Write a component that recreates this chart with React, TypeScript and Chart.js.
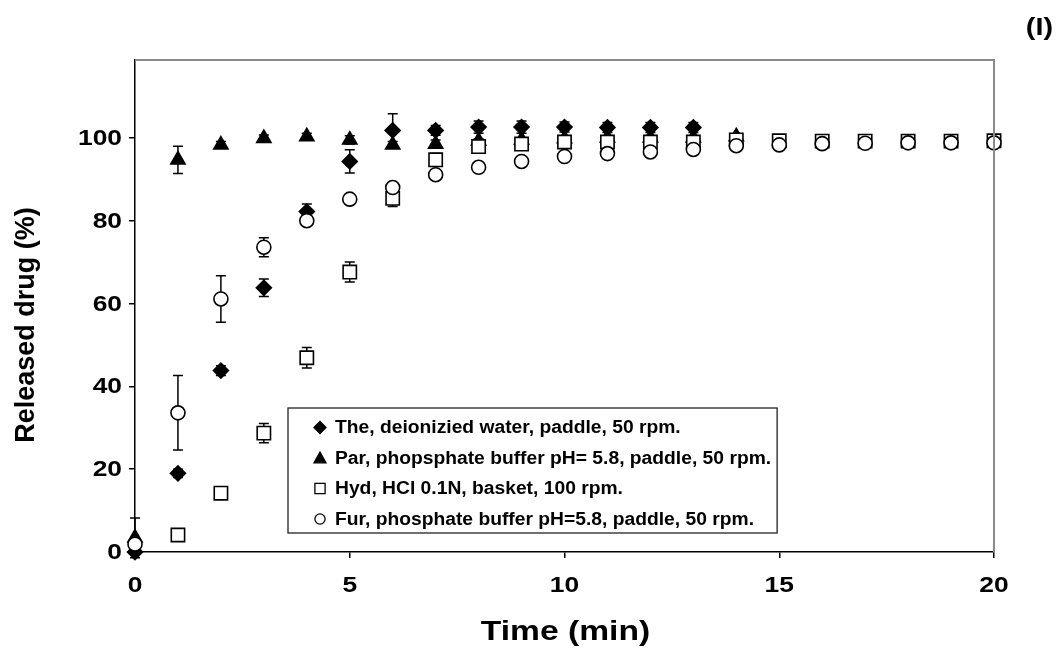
import React, { useEffect, useRef } from 'react';
import { Chart, registerables } from 'chart.js';

Chart.register(...registerables);

// ---- Data ----
const timeMin = [0, 1, 2, 3, 4, 5, 6, 7, 8, 9, 10, 11, 12, 13, 14, 15, 16, 17, 18, 19, 20];

const seriesLabels = [
  'The, deionizied water, paddle, 50 rpm.',
  'Par, phopsphate buffer pH= 5.8, paddle, 50 rpm.',
  'Hyd, HCl 0.1N, basket, 100 rpm.',
  'Fur, phosphate buffer pH=5.8, paddle, 50 rpm.',
];

const theValues = [0, 19.0, 43.8, 63.8, 82.2, 94.3, 101.8, 101.8, 102.6, 102.6, 102.6, 102.5, 102.5, 102.5, null, null, null, null, null, null, null];
const theErrors = [0, 1.0, 1.2, 2.1, 1.8, 2.8, 4.0, 1.2, 1.5, 1.5, 1.2, 1.2, 1.2, 1.2, null, null, null, null, null, null, null];

const parValues = [3.4, 94.7, 98.3, 99.9, 100.3, 99.5, 98.3, 98.5, 99.3, 99.5, 99.8, 100.0, 100.0, 100.0, 100.3, null, null, null, null, null, null];
const parErrors = [4.8, 3.3, 0.8, 0.8, 0.8, 1.0, 0.8, 1.0, 0.5, 0.5, 0.5, 0.5, 0.5, 0.5, 0.5, null, null, null, null, null, null];

const hydValues = [null, 4.1, 14.2, 28.7, 46.9, 67.6, 85.4, 94.7, 97.9, 98.5, 99.0, 99.0, 99.0, 99.0, 99.5, 99.3, 99.2, 99.2, 99.2, 99.2, 99.3];
const hydErrors = [null, 0.5, 0.5, 2.3, 2.5, 2.4, 2.0, 1.5, 0.5, 0.5, 0.5, 0.5, 0.5, 0.5, 0.5, 0.5, 0.5, 0.5, 0.5, 0.5, 0.5];

const furValues = [1.9, 33.6, 61.1, 73.6, 80.0, 85.2, 88.0, 91.1, 92.9, 94.3, 95.5, 96.2, 96.6, 97.2, 98.1, 98.3, 98.6, 98.7, 98.8, 98.8, 98.8];
const furErrors = [0.5, 9.0, 5.6, 2.3, 1.0, 0.8, 1.0, 0.5, 0.5, 0.5, 0.5, 0.5, 0.5, 0.5, 0.5, 0.5, 0.5, 0.5, 0.5, 0.5, 0.5];

const xTickStep = 5;
const yTickStep = 20;
const xAxisTitle = 'Time (min)';
const yAxisTitle = 'Released drug (%)';
const panelLabel = '(I)';

const FONT = '"Liberation Sans", Arial, Helvetica, sans-serif';
const STRETCH = 1.2;

type Series = {
  label: string;
  values: (number | null)[];
  errors: (number | null)[];
  style: string;
  fill: string;
  radius: number;
  order: number;
};

const series: Series[] = [
  { label: seriesLabels[0], values: theValues, errors: theErrors, style: 'rectRot', fill: '#000', radius: 7.5, order: 4 },
  { label: seriesLabels[1], values: parValues, errors: parErrors, style: 'triangle', fill: '#000', radius: 8.2, order: 3 },
  { label: seriesLabels[2], values: hydValues, errors: hydErrors, style: 'rect', fill: '#fff', radius: 9.4, order: 2 },
  { label: seriesLabels[3], values: furValues, errors: furErrors, style: 'circle', fill: '#fff', radius: 7, order: 1 },
];

function toPoints(values: (number | null)[]) {
  const pts: { x: number; y: number }[] = [];
  timeMin.forEach((t, i) => {
    const v = values[i];
    if (v !== null && v !== undefined) pts.push({ x: t, y: v });
  });
  return pts;
}

function drawMarker(ctx: CanvasRenderingContext2D, style: string, x: number, y: number, s: number, fill: string) {
  ctx.beginPath();
  if (style === 'rectRot') {
    ctx.moveTo(x - s, y);
    ctx.lineTo(x, y - s);
    ctx.lineTo(x + s, y);
    ctx.lineTo(x, y + s);
    ctx.closePath();
  } else if (style === 'triangle') {
    ctx.moveTo(x, y - s);
    ctx.lineTo(x + s, y + s * 0.8);
    ctx.lineTo(x - s, y + s * 0.8);
    ctx.closePath();
  } else if (style === 'rect') {
    ctx.rect(x - s * 0.85, y - s * 0.85, s * 1.7, s * 1.7);
  } else {
    ctx.arc(x, y, s * 0.85, 0, Math.PI * 2);
  }
  ctx.fillStyle = fill;
  ctx.fill();
  ctx.lineWidth = 1.3;
  ctx.strokeStyle = '#000';
  ctx.stroke();
}

function stretchedText(
  ctx: CanvasRenderingContext2D,
  text: string,
  x: number,
  y: number,
  font: string,
  align: CanvasTextAlign,
  sx: number
) {
  ctx.save();
  ctx.translate(x, y);
  ctx.scale(sx, 1);
  ctx.font = font;
  ctx.fillStyle = '#000';
  ctx.textAlign = align;
  ctx.textBaseline = 'middle';
  ctx.fillText(text, 0, 0);
  ctx.restore();
}

const errorBarPlugin = {
  id: 'errorBars',
  beforeDatasetsDraw(chart: any) {
    const { ctx, scales } = chart;
    const xs = scales.x;
    const ys = scales.y;
    ctx.save();
    ctx.strokeStyle = '#000';
    ctx.lineWidth = 1.5;
    series.forEach((s) => {
      timeMin.forEach((t, i) => {
        const v = s.values[i];
        const e = s.errors[i];
        if (v === null || e === null || !e) return;
        const px = xs.getPixelForValue(t);
        const top = ys.getPixelForValue(v + e);
        const bot = ys.getPixelForValue(v - e);
        ctx.beginPath();
        ctx.moveTo(px, top);
        ctx.lineTo(px, bot);
        ctx.moveTo(px - 5, top);
        ctx.lineTo(px + 5, top);
        ctx.moveTo(px - 5, bot);
        ctx.lineTo(px + 5, bot);
        ctx.stroke();
      });
    });
    ctx.restore();
  },
};

const framePlugin = {
  id: 'frame',
  afterDatasetsDraw(chart: any) {
    const { ctx, chartArea } = chart;
    ctx.save();
    ctx.strokeStyle = '#8a8a8a';
    ctx.lineWidth = 2;
    ctx.beginPath();
    ctx.moveTo(chartArea.left, chartArea.top);
    ctx.lineTo(chartArea.right, chartArea.top);
    ctx.lineTo(chartArea.right, chartArea.bottom);
    ctx.stroke();
    ctx.restore();
  },
};

const textPlugin = {
  id: 'axisText',
  afterDraw(chart: any) {
    const { ctx, scales, chartArea } = chart;
    const xs = scales.x;
    const ys = scales.y;
    const tickFont = `bold 22px ${FONT}`;
    xs.ticks.forEach((t: any) => {
      stretchedText(ctx, String(t.value), xs.getPixelForValue(t.value), 586, tickFont, 'center', STRETCH);
    });
    ys.ticks.forEach((t: any) => {
      stretchedText(ctx, String(t.value), 122, ys.getPixelForValue(t.value) + 1, tickFont, 'right', STRETCH);
    });
    // x title
    stretchedText(ctx, xAxisTitle, (chartArea.left + chartArea.right) / 2 + 1, 632, `bold 28px ${FONT}`, 'center', STRETCH);
    // y title (rotated)
    ctx.save();
    ctx.translate(27, 325);
    ctx.rotate(-Math.PI / 2);
    ctx.font = `bold 27px ${FONT}`;
    ctx.fillStyle = '#000';
    ctx.textAlign = 'center';
    ctx.textBaseline = 'middle';
    ctx.fillText(yAxisTitle, 0, 0);
    ctx.restore();
    // panel label
    stretchedText(ctx, panelLabel, 1053, 28, `bold 24px ${FONT}`, 'right', STRETCH);
  },
};

const legendPlugin = {
  id: 'boxLegend',
  afterDraw(chart: any) {
    const { ctx } = chart;
    ctx.save();
    const legendFont = `bold 18px ${FONT}`;
    const sx = 1.07;
    ctx.font = legendFont;
    const textX = 335;
    const markerX = 320;
    const rowY = [427.5, 458, 488.5, 519];
    let maxW = 0;
    series.forEach((s) => {
      maxW = Math.max(maxW, ctx.measureText(s.label).width * sx);
    });
    const boxL = 288;
    const boxT = 408;
    const boxR = textX + maxW + 6;
    const boxB = 533;
    ctx.fillStyle = '#fff';
    ctx.fillRect(boxL, boxT, boxR - boxL, boxB - boxT);
    ctx.strokeStyle = '#222';
    ctx.lineWidth = 1.3;
    ctx.strokeRect(boxL, boxT, boxR - boxL, boxB - boxT);
    series.forEach((s, i) => {
      drawMarker(ctx, s.style, markerX, rowY[i], 6, s.fill);
      stretchedText(ctx, s.label, textX, rowY[i] + 1, legendFont, 'left', sx);
    });
    ctx.restore();
  },
};

export default function App() {
  const canvasRef = useRef<HTMLCanvasElement | null>(null);

  useEffect(() => {
    const canvas = canvasRef.current;
    if (!canvas) return;
    const chart = new Chart(canvas, {
      type: 'line',
      data: {
        datasets: series.map((s) => ({
          label: s.label,
          data: toPoints(s.values),
          showLine: false,
          pointStyle: s.style as any,
          pointRadius: s.radius,
          pointHoverRadius: s.radius,
          backgroundColor: s.fill,
          pointBackgroundColor: s.fill,
          borderColor: '#000',
          pointBorderColor: '#000',
          pointBorderWidth: 1.6,
          order: s.order,
          clip: false as any,
        })),
      },
      options: {
        animation: false,
        responsive: false,
        events: [],
        layout: { padding: { top: 60, right: 65, left: 0, bottom: 0 } },
        plugins: {
          legend: { display: false },
          tooltip: { enabled: false },
        },
        scales: {
          x: {
            type: 'linear',
            min: 0,
            max: 20,
            afterFit: (s: any) => {
              s.height = 99;
            },
            ticks: { stepSize: xTickStep, display: false },
            grid: { drawOnChartArea: false, drawTicks: true, tickLength: 6, color: '#000', lineWidth: 1.5 },
            border: { display: true, color: '#000', width: 1.5 },
            title: { display: false },
          },
          y: {
            type: 'linear',
            min: 0,
            max: 118.8,
            afterFit: (s: any) => {
              s.width = 135;
            },
            ticks: { stepSize: yTickStep, includeBounds: false, display: false },
            grid: { drawOnChartArea: false, drawTicks: true, tickLength: 6, color: '#000', lineWidth: 1.5 },
            border: { display: true, color: '#000', width: 1.5 },
            title: { display: false },
          },
        },
      } as any,
      plugins: [errorBarPlugin, framePlugin, legendPlugin, textPlugin],
    });
    return () => chart.destroy();
  }, []);

  return (
    <div style={{ position: 'fixed', left: 0, top: 0, width: 1059, height: 651, background: '#fff' }}>
      <canvas ref={canvasRef} width={1059} height={651} style={{ display: 'block' }} />
    </div>
  );
}
